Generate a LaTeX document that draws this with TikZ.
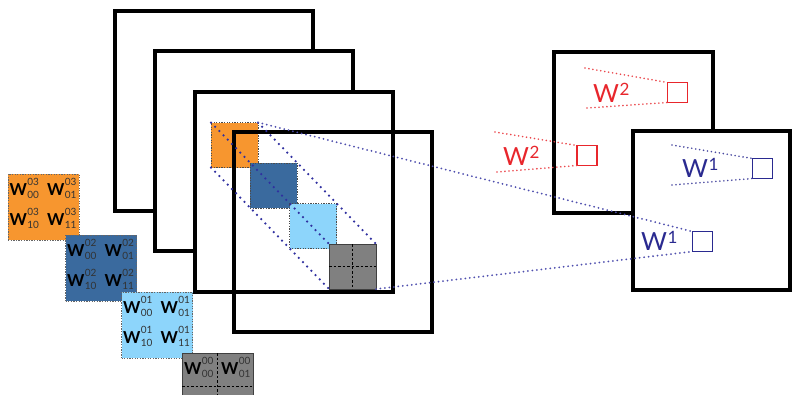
\documentclass[tikz,border=0pt]{standalone}
\usepackage{fontspec}
\setmainfont{Lato}
\definecolor{orng}{HTML}{F7962F}
\definecolor{dblu}{HTML}{3A6A9E}
\definecolor{lblu}{HTML}{8DD5FB}
\definecolor{gry}{HTML}{808080}
\definecolor{redc}{HTML}{E8262C}
\definecolor{navy}{HTML}{2A2A90}
\definecolor{dotb}{HTML}{3030A0}
\newcommand\scfont{\fontsize{10}{10}\selectfont\mdseries\color{black!80}}
\newcommand\wsym[2]{W\kern0.3pt\rlap{\raisebox{9.5pt}{\scfont #1}}\raisebox{-3.5pt}{\scfont #2}}
\newcommand\wbig[1]{W\kern0.5pt\raisebox{7pt}{\fontsize{17}{17}\selectfont #1}}
\tikzset{
  frame/.style={draw=black, line width=4pt, fill=white, inner sep=0pt, outer sep=0pt,
    minimum width=198pt, minimum height=200pt},
  openframe/.style={frame, fill=none},
  sq/.style={inner sep=0pt, outer sep=0pt, minimum width=47pt, minimum height=45pt,
    draw=black!70, line width=0.9pt, dash pattern=on 1.3pt off 1.3pt},
  solidsq/.style={sq, solid, draw=black!75},
  tile/.style={inner sep=0pt, outer sep=0pt, minimum width=71pt, minimum height=66pt,
    draw=black!60, line width=0.9pt, dash pattern=on 1.3pt off 1.3pt},
  solidtile/.style={tile, solid, draw=black!75},
  cross/.style={draw=black, line width=1pt, dash pattern=on 2.5pt off 2pt},
  wl/.style={anchor=base west, inner sep=0pt, font=\fontsize{16.5}{16.5}\selectfont\bfseries},
  bigl/.style={anchor=base west, inner sep=0pt, font=\fontsize{25}{25}\selectfont},
  diag/.style={draw=dotb, line width=2.5pt, line cap=round, dash pattern=on 0pt off 6pt},
  longdot/.style={draw=dotb!85, line width=2pt, line cap=round, dash pattern=on 0pt off 4.5pt},
  reddot/.style={draw=redc!85, line width=1.8pt, line cap=round, dash pattern=on 0pt off 4pt},
  navydot/.style={draw=navy!85, line width=1.8pt, line cap=round, dash pattern=on 0pt off 4pt},
  redsq/.style={draw=redc, line width=1.4pt, minimum size=20pt, inner sep=0pt, outer sep=0pt},
  navysq/.style={draw=navy, line width=1.4pt, minimum size=20pt, inner sep=0pt, outer sep=0pt},
  rframe/.style={draw=black, line width=4pt, fill=white, inner sep=0pt, outer sep=0pt}
}
\begin{document}
\begin{tikzpicture}[x=1pt,y=-1pt]
\useasboundingbox (0,0) rectangle (792,394);
\clip (0,0) rectangle (792,394);
% stacked frames
\node[frame] (f1) at (214,111) {};
\node[frame] (f2) at (253.5,150.5) {};
\node[frame] (f3) at (293.5,191.5) {};
% squares inside frame
\node[sq, fill=orng] (so) at (234.5,145) {};
\node[sq, fill=dblu] (sd) at (273.5,185.5) {};
\node[sq, fill=lblu] (sl) at (313,226) {};
\node[solidsq, fill=gry] (sg) at (352.5,266.5) {};
\draw[cross] (sg.north) -- (sg.south);
\draw[cross] (sg.west) -- (sg.east);
\node[openframe] (f4) at (333,231.5) {};
% right frames
\node[rframe, minimum width=159pt, minimum height=161pt] (rb) at (633.5,132.5) {};
\node[rframe, minimum width=157pt, minimum height=159pt] (rf) at (711.5,210.5) {};
% diagonal dotted lines
\draw[diag] (so.north east) -- (sg.north east);
\draw[diag] (so.north west) -- (sg.north west);
\draw[diag] (so.south west) -- (sg.south west);
% red squares and labels
\node[redsq] (r2) at (677.5,92.5) {};
\node[redsq] (r1) at (587,155.5) {};
\coordinate (r2a) at (585,68);
\coordinate (r2b) at (587,108);
\coordinate (r1a) at (495,132);
\coordinate (r1b) at (497,172);
\draw[reddot] (r2a) -- (r2.north west);
\draw[reddot] (r2b) -- (r2.south west);
\draw[reddot] (r1a) -- (r1.north west);
\draw[reddot] (r1b) -- (r1.south west);
\node[bigl, text=redc] (lr2) at (593,102) {\wbig{2}};
\node[bigl, text=redc] (lr1) at (503,165) {\wbig{2}};
% navy squares and labels
\node[navysq] (b2) at (762.5,168.5) {};
\node[navysq] (b1) at (702.5,241.5) {};
\coordinate (b2a) at (672,145);
\coordinate (b2b) at (672,185);
\draw[navydot] (b2a) -- (b2.north west);
\draw[navydot] (b2b) -- (b2.south west);
\node[bigl, text=navy] (lb2) at (682,177) {\wbig{1}};
\node[bigl, text=navy] (lb1) at (641,250) {\wbig{1}};
% long connectors
\draw[longdot] (so.north east) -- (b1.north west);
\draw[longdot] (sg.south east) -- (b1.south west);
% weight tiles
\node[tile, fill=orng] (t3) at (43.5,207) {};
\node[wl] at ([shift={(1.5,21)}]t3.north west) {\wsym{03}{00}};
\node[wl] at ([shift={(39,21)}]t3.north west) {\wsym{03}{01}};
\node[wl] at ([shift={(1.5,51)}]t3.north west) {\wsym{03}{10}};
\node[wl] at ([shift={(39,51)}]t3.north west) {\wsym{03}{11}};
\node[tile, fill=dblu] (t2) at (101,268) {};
\node[wl] at ([shift={(1.5,21)}]t2.north west) {\wsym{02}{00}};
\node[wl] at ([shift={(39,21)}]t2.north west) {\wsym{02}{01}};
\node[wl] at ([shift={(1.5,51)}]t2.north west) {\wsym{02}{10}};
\node[wl] at ([shift={(39,51)}]t2.north west) {\wsym{02}{11}};
\node[tile, fill=lblu] (t1) at (157,325) {};
\node[wl] at ([shift={(1.5,21)}]t1.north west) {\wsym{01}{00}};
\node[wl] at ([shift={(39,21)}]t1.north west) {\wsym{01}{01}};
\node[wl] at ([shift={(1.5,51)}]t1.north west) {\wsym{01}{10}};
\node[wl] at ([shift={(39,51)}]t1.north west) {\wsym{01}{11}};
\node[solidtile, fill=gry] (t0) at (217.5,386) {};
\draw[cross] (t0.north) -- (t0.south);
\draw[cross] (t0.west) -- (t0.east);
\node[wl] at ([shift={(2,21)}]t0.north west) {\wsym{00}{00}};
\node[wl] at ([shift={(39,21)}]t0.north west) {\wsym{00}{01}};
\end{tikzpicture}
\end{document}
